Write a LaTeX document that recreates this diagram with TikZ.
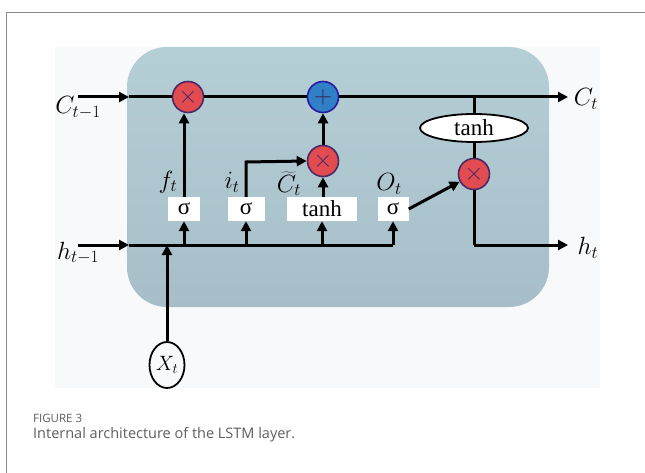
\documentclass[tikz,border=0pt]{standalone}
\usepackage{fontspec}
\setmainfont{Liberation Serif}
\newfontfamily\capfont{Open Sans}
\usetikzlibrary{arrows.meta,shapes.geometric}
\definecolor{bgoff}{HTML}{F8F9FB}
\definecolor{celltop}{HTML}{B5CFD6}
\definecolor{cellbot}{HTML}{A7BEC8}
\definecolor{redc}{HTML}{E24B50}
\definecolor{bluec}{HTML}{2F80C6}
\definecolor{ringc}{HTML}{4A2A66}
\definecolor{framec}{HTML}{8A8A8A}
\definecolor{capc}{HTML}{5E5E5E}
\tikzset{
  wire/.style={line width=3pt,black},
  arr/.style={wire,-{Triangle[length=10pt,width=10pt]}},
  mult/.style={circle,minimum size=31pt,inner sep=0pt,fill=redc,draw=ringc,line width=1.6pt,text=ringc,font=\fontsize{24}{24}\selectfont},
  addc/.style={circle,minimum size=31pt,inner sep=0pt,fill=bluec,draw=ringc!60!blue,line width=1.6pt,text=ringc!80!black,font=\fontsize{24}{24}\selectfont},
  gatebox/.style={rectangle,fill=white,inner sep=0pt,minimum height=24pt,font=\fontsize{23}{23}\selectfont},
  lbl/.style={font=\fontsize{24}{26}\selectfont,inner sep=0pt}
}
\begin{document}
\begin{tikzpicture}[x=1pt,y=-1pt]
\useasboundingbox (0,0) rectangle (645,473);
\fill[white] (0,0) rectangle (645,473);
\draw[framec,line width=1.2pt] (6.5,473) -- (6.5,12.5) -- (645,12.5);
\fill[bgoff] (55,47) rectangle (600,388);
\shade[top color=celltop,bottom color=cellbot,rounded corners=40pt] (127,47) rectangle (549,307);

% nodes
\node[mult] (m1) at (188,97) {$\times$};
\node[addc] (pl) at (323,97) {$+$};
\node[mult] (m2) at (323,161) {$\times$};
\node[ellipse,draw,fill=white,line width=1.8pt,minimum width=108pt,minimum height=28pt,inner sep=0pt,font=\fontsize{23}{23}\selectfont] (te) at (474,128) {tanh};
\node[mult] (m3) at (474,174) {$\times$};

\node[gatebox,minimum width=32pt] (s1) at (184,209) {σ};
\node[gatebox,minimum width=37pt] (s2) at (246,209) {σ};
\node[gatebox,minimum width=70pt] (tb) at (322,209) {tanh};
\node[gatebox,minimum width=31pt] (s3) at (393,209) {σ};

\node[ellipse,draw,line width=1.8pt,minimum width=35pt,minimum height=46pt,inner sep=0pt,font=\fontsize{22}{22}\selectfont] (xt) at (167,365) {$X_t$};

% labels
\node[lbl] (lcp) at (78,108) {$C_{t-1}$};
\node[lbl] (lct) at (586,99) {$C_t$};
\node[lbl] (lhp) at (78,253) {$h_{t-1}$};
\node[lbl] (lht) at (588,248) {$h_t$};
\node[lbl] (lf) at (168,182) {$f_t$};
\node[lbl] (li) at (232,182) {$i_t$};
\node[lbl] (lc) at (289,184) {$\widetilde{C}_t$};
\node[lbl] (lo) at (389,184) {$O_t$};

% coordinates
\coordinate (c0) at (78,97);
\coordinate (c1) at (129,97);
\coordinate (cend) at (568,97);
\coordinate (cj) at (474,97);
\coordinate (h0) at (78,245);
\coordinate (h1) at (129,245);
\coordinate (hx) at (167,245);
\coordinate (ha) at (184,245);
\coordinate (hb) at (246,245);
\coordinate (hc) at (322,245);
\coordinate (hd) at (393,245);
\coordinate (ibend) at (246,162);
\coordinate (oj) at (474,245);
\coordinate (hend) at (568,245);

% cell state line
\draw[arr] (c0) -- (c1);
\draw[wire] (c1) -- (m1);
\draw[wire] (m1) -- (pl);
\draw[arr] (pl) -- (cend);
\draw[wire] (cj) -- (te.north);
\draw[wire] (te.south) -- (m3.north);
\draw[wire] (m3.south) -- (oj);
\draw[arr] (oj) -- (hend);

% hidden line
\draw[arr] (h0) -- (h1);
\draw[wire] (h1) -- (hd);
\draw[arr] (hd) -- (s3.south);
\draw[arr] (ha) -- (s1.south);
\draw[arr] (hb) -- (s2.south);
\draw[arr] (hc) -- (tb.south);
\draw[arr] (xt.north) -- (hx);

% gates
\draw[arr] (s1.north) -- (s1.north |- m1.south);
\draw[arr] (s2.north) -- (ibend) -- (m2.west);
\draw[arr] (tb.north -| m2.south) -- (m2.south);
\draw[arr] (m2.north) -- (pl.south);
\draw[arr] (s3.east) -- (m3);

% caption
\node[anchor=base west,inner sep=0pt,text=capc,font=\capfont\fontsize{11.5}{12}\selectfont] (fig) at (33,422) {FIGURE 3};
\node[anchor=base west,inner sep=0pt,text=capc,font=\capfont\fontsize{14.5}{16}\selectfont] (cap) at (33,438) {Internal architecture of the LSTM layer.};
\end{tikzpicture}
\end{document}
